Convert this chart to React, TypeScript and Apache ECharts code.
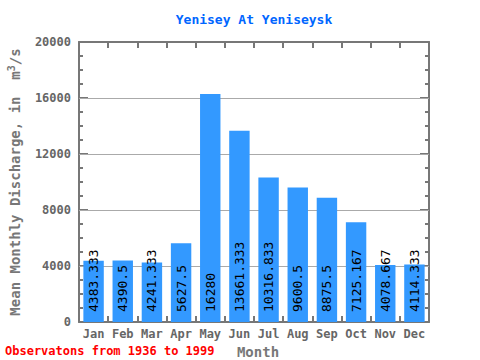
import React, { useEffect, useRef } from "react";
import * as echarts from "echarts";

const months = ["Jan", "Feb", "Mar", "Apr", "May", "Jun", "Jul", "Aug", "Sep", "Oct", "Nov", "Dec"];
const discharge = [4383.333, 4390.5, 4241.333, 5627.5, 16280, 13661.333, 10316.833, 9600.5, 8875.5, 7125.167, 4078.667, 4114.333];
const gridValues = [4000, 8000, 12000, 16000];
const titleText = "Yenisey At Yeniseysk";
const noteText = "Observatons from 1936 to 1999";

const MONO = "'DejaVu Sans Mono', 'Liberation Mono', monospace";
const AXIS_COLOR = "#777777";

export default function App() {
  const ref = useRef<HTMLDivElement>(null);
  useEffect(() => {
    if (!ref.current) return;
    const chart = echarts.init(ref.current, null, { renderer: "svg" });
    chart.setOption({
      animation: false,
      backgroundColor: "#ffffff",
      title: {
        text: titleText,
        left: 249,
        textAlign: "center",
        top: 8,
        textStyle: { color: "#0066ff", fontFamily: MONO, fontSize: 13, fontWeight: "bold" },
      },
      graphic: [
        {
          type: "text",
          left: 5,
          top: 345,
          style: { text: noteText, fill: "#ff0000", font: `bold 12px ${MONO}` },
        },
      ],
      grid: { left: 79, right: 51, top: 42, bottom: 38, containLabel: false, outerBoundsMode: "none" },
      xAxis: [
        {
          type: "category",
          data: months,
          position: "bottom",
          name: "Month",
          nameLocation: "middle",
          nameGap: 21,
          nameTextStyle: { color: AXIS_COLOR, fontFamily: MONO, fontSize: 14, fontWeight: "bold", padding: [0, 0, 0, 8] },
          axisLine: { onZero: false, lineStyle: { color: AXIS_COLOR, width: 2 } },
          axisTick: { show: true, interval: 0, inside: true, length: 6, lineStyle: { color: AXIS_COLOR, width: 2 } },
          axisLabel: { color: "#666666", fontFamily: MONO, fontSize: 12, fontWeight: "bold", margin: 6, interval: 0 },
        },
        {
          type: "category",
          data: months,
          position: "top",
          axisLine: { show: true, onZero: false, lineStyle: { color: AXIS_COLOR, width: 2 } },
          axisTick: { show: true, interval: 0, inside: true, length: 6, lineStyle: { color: AXIS_COLOR, width: 2 } },
          axisLabel: { show: false },
        },
      ],
      yAxis: [
        {
          type: "value",
          min: 0,
          max: 20000,
          interval: 4000,
          position: "left",
          name: "Mean Monthly Discharge, in  m{sup|3}/s",
          nameLocation: "middle",
          nameGap: 55,
          nameTextStyle: {
            color: AXIS_COLOR,
            fontFamily: MONO,
            fontSize: 14,
            fontWeight: "bold",
            rich: {
              sup: { fontSize: 10, fontFamily: MONO, fontWeight: "bold", color: AXIS_COLOR, verticalAlign: "top", padding: [0, 0, 8, 0] },
            },
          },
          axisLine: { show: true, onZero: false, lineStyle: { color: AXIS_COLOR, width: 2 } },
          axisTick: { show: true, inside: true, length: 9, lineStyle: { color: AXIS_COLOR, width: 2 } },
          minorTick: { show: true, splitNumber: 4, length: 4, lineStyle: { color: AXIS_COLOR, width: 2 } },
          splitLine: { show: false },
          axisLabel: {
            color: "#666666",
            fontFamily: MONO,
            fontSize: 12,
            fontWeight: "bold",
            margin: 8,
            formatter: (v: number) => String(v),
          },
        },
        {
          type: "value",
          min: 0,
          max: 20000,
          interval: 4000,
          position: "right",
          axisLine: { show: true, onZero: false, lineStyle: { color: AXIS_COLOR, width: 2 } },
          axisTick: { show: true, inside: true, length: 9, lineStyle: { color: AXIS_COLOR, width: 2 } },
          minorTick: { show: true, splitNumber: 4, length: 4, lineStyle: { color: AXIS_COLOR, width: 2 } },
          splitLine: { show: false },
          axisLabel: { show: false },
        },
      ],
      series: [
        {
          type: "bar",
          data: discharge,
          xAxisIndex: 0,
          yAxisIndex: 0,
          barWidth: "70%",
          itemStyle: { color: "#3399ff" },
          label: {
            show: true,
            position: "insideBottom",
            distance: 10,
            rotate: 90,
            align: "left",
            verticalAlign: "middle",
            color: "#000000",
            fontFamily: MONO,
            fontSize: 13,
            formatter: (p: any) => String(p.value),
          },
          markLine: {
            silent: true,
            symbol: "none",
            label: { show: false },
            lineStyle: { color: "#aaaaaa", width: 1, type: "solid" },
            data: gridValues.map((v) => ({ yAxis: v })),
            z: 1,
          },
        },
      ],
    });
    return () => chart.dispose();
  }, []);
  return <div ref={ref} style={{ width: 480, height: 360, position: "absolute", left: 0, top: 0 }} />;
}
